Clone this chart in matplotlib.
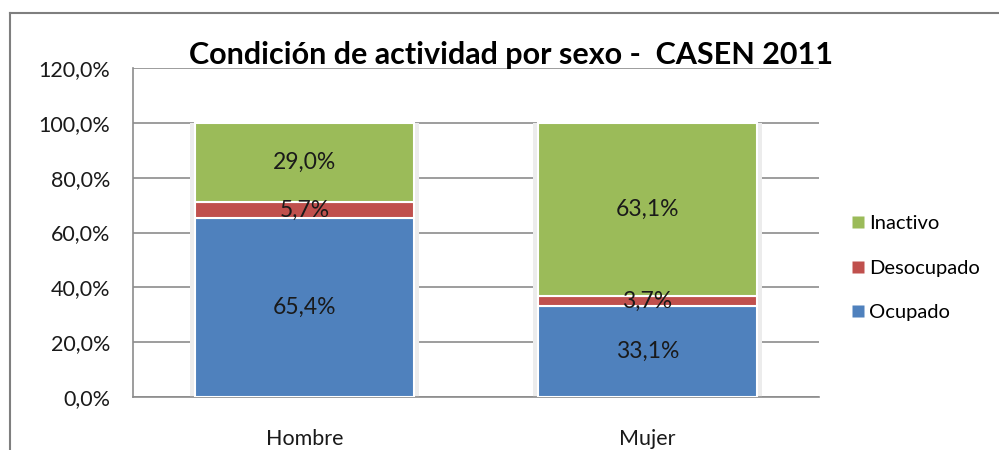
import matplotlib
matplotlib.use("Agg")
import matplotlib.pyplot as plt
from matplotlib.lines import Line2D

categories = ["Hombre", "Mujer"]
series_names = ["Ocupado", "Desocupado", "Inactivo"]
ocupado = [65.4, 33.1]
desocupado = [5.7, 3.7]
inactivo = [29.0, 63.1]
yticks = [0, 20, 40, 60, 80, 100, 120]
title = "Condición de actividad por sexo -  CASEN 2011"

colors = {"Ocupado": "#4F81BD", "Desocupado": "#C0504D", "Inactivo": "#9BBB59"}
plt.rcParams['font.family'] = ['Lato', 'DejaVu Sans']

fig = plt.figure(figsize=(9.99, 4.5), dpi=100)
ax = fig.add_axes([133/999, 1-397/450, (819-133)/999, (397-68)/450])

x = list(range(len(categories)))
width = 0.64
data = {"Ocupado": ocupado, "Desocupado": desocupado, "Inactivo": inactivo}
bottom = [0.0]*len(categories)
for name in series_names:
    vals = data[name]
    ax.bar(x, vals, width + 0.025, bottom=bottom,
           color="#ececec", edgecolor="none", zorder=2)
    ax.bar(x, vals, width, bottom=bottom, color=colors[name],
           edgecolor="white", linewidth=1.5, zorder=3, label=name)
    for xi, v, b in zip(x, vals, bottom):
        ax.text(xi, b + v/2, f"{v:.1f}%".replace(".", ","), ha="center", va="center",
                fontsize=16.5, color="#1a1a1a", zorder=4)
    bottom = [b + v for b, v in zip(bottom, vals)]

ax.set_xlim(-0.5, 1.5)
ax.set_ylim(0, 120)
ax.set_yticks(yticks)
ax.set_yticklabels([f"{t:.1f}%".replace(".", ",") for t in yticks], fontsize=15.5, color="#1a1a1a")
ax.set_xticks(x)
ax.set_xticklabels(categories, fontsize=15.5, color="#1a1a1a")
ax.tick_params(axis="y", length=0, pad=16.5)
ax.tick_params(axis="x", length=0, pad=23)
ax.grid(axis="y", color="#8c8c8c", linewidth=1.2, zorder=1)
ax.set_axisbelow(True)
for s in ["top", "right"]:
    ax.spines[s].set_visible(False)
ax.spines["left"].set_color("#8c8c8c")
ax.spines["bottom"].set_color("#8c8c8c")
ax.spines["left"].set_linewidth(1.2)
ax.spines["bottom"].set_linewidth(1.2)

fig.text(511/999, 1-55/450, title, ha="center", va="center", fontsize=22,
         fontweight="bold", color="#000000")

handles = [Line2D([], [], marker="s", linestyle="none", markersize=9,
                  markerfacecolor=colors[n], markeredgecolor="none") for n in series_names[::-1]]
fig.legend(handles, series_names[::-1], loc="center left",
           bbox_to_anchor=(848/999, 1-268/450), frameon=False, fontsize=14.5,
           handletextpad=0.05, labelspacing=1.38, handlelength=1.0, borderpad=0,
           borderaxespad=0)

# outer chart border (top and left visible)
fig.add_artist(Line2D([10/999, 1.0], [1-13/450, 1-13/450], color="#7f7f7f", linewidth=1.5,
                      transform=fig.transFigure))
fig.add_artist(Line2D([10/999, 10/999], [0, 1-13/450], color="#7f7f7f", linewidth=1.5,
                      transform=fig.transFigure))

fig.savefig("out.png", dpi=100, facecolor="white")
